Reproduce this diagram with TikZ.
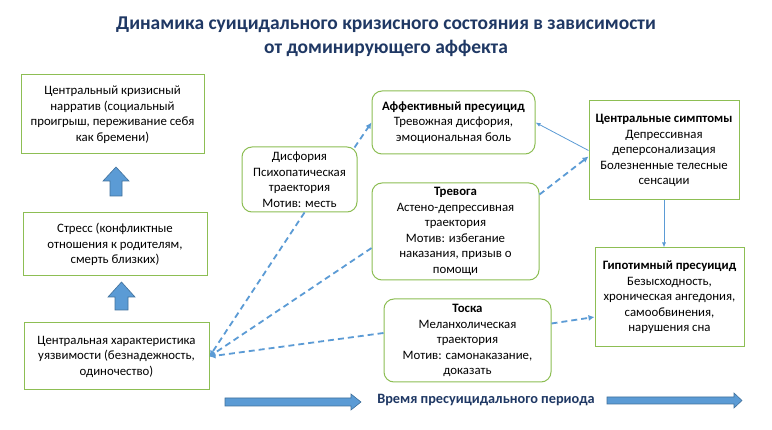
\documentclass[tikz,border=0pt]{standalone}
\usepackage{fontspec}
\setmainfont{Carlito}
\usetikzlibrary{arrows.meta}
\definecolor{gbord}{RGB}{141,190,84}
\definecolor{ablue}{HTML}{5B9BD5}
\definecolor{adark}{HTML}{41719C}
\definecolor{navy}{HTML}{1F3864}
\tikzset{
  sqbox/.style={draw=gbord, line width=1pt, align=center, inner sep=0pt,
    font=\fontsize{12.8}{15.5}\selectfont},
  rbox/.style={sqbox, rounded corners=10pt},
  dasharrow/.style={draw=ablue, line width=1.8pt, dash pattern=on 6pt off 4pt,
    -{Latex[length=6pt,width=6pt]}},
  thinarrow/.style={draw=ablue, line width=0.8pt, -{Latex[length=5pt,width=4pt]}},
  fatarrow/.style={fill=ablue, draw=adark, line width=0.6pt},
  titletext/.style={text=navy, font=\fontsize{19.5}{23.5}\bfseries\selectfont, align=center}
}
\begin{document}
\begin{tikzpicture}[x=1pt,y=-1pt]
\useasboundingbox (0,0) rectangle (772,430);
\fill[white] (0,0) rectangle (772,430);

\node[titletext] (title) at (386,37) {Динамика суицидального кризисного состояния в зависимости\\от доминирующего аффекта};

\node[sqbox, minimum width=183, minimum height=79] (narr) at (112.5,114.5)
  {Центральный кризисный\\нарратив (социальный\\проигрыш, переживание себя\\как бремени)};
\node[sqbox, minimum width=184, minimum height=63] (stress) at (115,244.5)
  {Стресс (конфликтные\\отношения к родителям,\\смерть близких)};
\node[sqbox, minimum width=185, minimum height=67] (vuln) at (116.5,356.5)
  {Центральная характеристика\\уязвимости (безнадежность,\\одиночество)};

\node[rbox, minimum width=115, minimum height=65] (dys) at (299.5,179.5)
  {Дисфория\\Психопатическая\\траектория\\Мотив: месть};
\node[rbox, minimum width=163, minimum height=63] (aff) at (453.5,122.5)
  {\textbf{Аффективный пресуицид}\\Тревожная дисфория,\\эмоциональная боль};
\node[rbox, minimum width=167, minimum height=97] (trev) at (455.5,231.5)
  {\textbf{Тревога}\\Астено-депрессивная\\траектория\\Мотив: избегание\\наказания, призыв о\\помощи};
\node[rbox, minimum width=167, minimum height=83] (tos) at (467.5,340.5)
  {\textbf{Тоска}\\Меланхолическая\\траектория\\Мотив: самонаказание,\\доказать};

\node[sqbox, minimum width=150, minimum height=99] (sym) at (664,150.5)
  {\textbf{Центральные симптомы}\\Депрессивная\\деперсонализация\\Болезненные телесные\\сенсации};
\node[sqbox, minimum width=149, minimum height=99] (hyp) at (669.5,297.5)
  {\textbf{Гипотимный пресуицид}\\Безысходность,\\хроническая ангедония,\\самообвинения,\\нарушения сна};

% block arrows
\draw[fatarrow] (116,167) -- (129,181) -- (122,181) -- (122,196) -- (110,196) -- (110,181) -- (103,181) -- cycle;
\draw[fatarrow] (121.5,282) -- (135,297) -- (128,297) -- (128,310) -- (115,310) -- (115,297) -- (108,297) -- cycle;
\draw[fatarrow] (225,398) -- (351,398) -- (351,394) -- (361,402) -- (351,410) -- (351,406) -- (225,406) -- cycle;
\draw[fatarrow] (607,397) -- (734,397) -- (734,393) -- (742,400.5) -- (734,408) -- (734,404) -- (607,404) -- cycle;

\node[text=navy, font=\fontsize{14.3}{16}\bfseries\selectfont] (time) at (486,400) {Время пресуицидального периода};

% connectors
\draw[dasharrow] ([shift={(-3pt,-1pt)}]dys.north east) -- (aff.west);
\draw[dasharrow] ([yshift=-12pt]trev.north east) -- ([yshift=-6pt]sym.west);
\draw[thinarrow] (sym.west) -- (aff.east);
\draw[thinarrow] (sym.south) -- (sym.south |- hyp.north);
\draw[dasharrow] ([yshift=17pt]tos.east) -- ([yshift=-19.5pt]hyp.west);
\draw[dasharrow] ([xshift=5pt]dys.south) -- (vuln.east);
\draw[dasharrow] ([yshift=-16.5pt]trev.west) -- (vuln.east);
\draw[dasharrow] ([yshift=7.5pt]tos.west) -- (vuln.east);
\end{tikzpicture}
\end{document}
